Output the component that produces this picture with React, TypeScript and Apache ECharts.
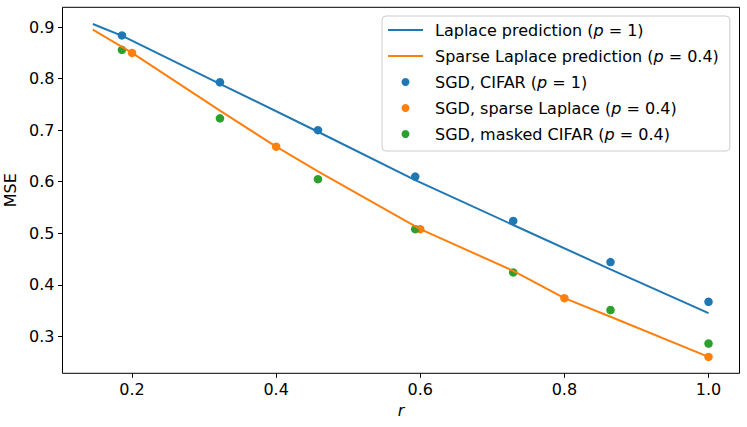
import React, { useEffect, useRef } from "react";
import * as echarts from "echarts";

const laplaceX = [0.1456, 0.1864, 0.322, 0.458, 0.593, 0.729, 0.864, 1.0];
const laplaceY = [0.906, 0.883, 0.79, 0.697, 0.603, 0.516, 0.43, 0.345];
const sparseX = [0.1456, 0.2, 0.322, 0.4, 0.458, 0.6, 0.729, 0.8, 0.864, 1.0];
const sparseY = [0.895, 0.85, 0.738, 0.668, 0.62, 0.508, 0.427, 0.374, 0.338, 0.26];
const cifarX = [0.186, 0.322, 0.458, 0.593, 0.729, 0.864, 1.0];
const cifarY = [0.884, 0.793, 0.7, 0.61, 0.524, 0.444, 0.367];
const sgdSparseX = [0.2, 0.4, 0.6, 0.8, 1.0];
const sgdSparseY = [0.85, 0.668, 0.508, 0.374, 0.26];
const maskedY = [0.856, 0.723, 0.605, 0.508, 0.424, 0.351, 0.286];

const xTicks = [0.2, 0.4, 0.6, 0.8, 1.0];
const yTicks = [0.3, 0.4, 0.5, 0.6, 0.7, 0.8, 0.9];

const names = [
  "Laplace prediction (p = 1)",
  "Sparse Laplace prediction (p = 0.4)",
  "SGD, CIFAR (p = 1)",
  "SGD, sparse Laplace (p = 0.4)",
  "SGD, masked CIFAR (p = 0.4)",
];

const zip = (xs: number[], ys: number[]) => xs.map((x, i) => [x, ys[i]]);

const FONT = "DejaVu Sans";

export default function App() {
  const ref = useRef<HTMLDivElement>(null);
  useEffect(() => {
    document.body.style.margin = "0";
    if (!ref.current) return;
    const chart = echarts.init(ref.current, undefined, { renderer: "svg" });
    const axisText = { color: "#000", fontFamily: FONT, fontSize: 16 };
    chart.setOption({
      animation: false,
      textStyle: { fontFamily: FONT },
      grid: {
        left: 62.5,
        right: 7.5,
        top: 7.3,
        bottom: 53.7,
        containLabel: false,
        outerBoundsMode: "none",
        show: true,
        borderColor: "#000",
        borderWidth: 1,
        backgroundColor: "transparent",
      },
      legend: {
        orient: "vertical",
        left: 382,
        top: 16,
        selectedMode: false,
        itemWidth: 35,
        itemHeight: 8,
        itemGap: 10,
        padding: [6, 11, 9, 5],
        borderColor: "#cccccc",
        borderWidth: 1,
        borderRadius: 4,
        backgroundColor: "rgba(255,255,255,0.8)",
        data: names.map((n, i) => (i < 2 ? { name: n, itemStyle: { opacity: 0 } } : { name: n })),
        formatter: (n: string) => n.replace("(p", "({i|p}"),
        textStyle: {
          color: "#000",
          fontFamily: FONT,
          fontSize: 16,
          lineHeight: 16,
          padding: [0, 0, 0, 7],
          rich: {
            i: { fontStyle: "italic", fontFamily: FONT, fontSize: 16, lineHeight: 16, color: "#000" },
          },
        },
      },
      xAxis: {
        type: "value",
        min: 0.1035,
        max: 1.043,
        name: "r",
        nameLocation: "middle",
        nameGap: 27,
        nameTextStyle: { ...axisText, fontStyle: "italic" },
        axisLine: { show: false },
        splitLine: { show: false },
        axisTick: { show: true, length: 4.5, lineStyle: { color: "#000", width: 1 }, customValues: xTicks },
        axisLabel: { ...axisText, margin: 8, customValues: xTicks, formatter: (v: number) => v.toFixed(1) },
      },
      yAxis: {
        type: "value",
        min: 0.2282,
        max: 0.9385,
        name: "MSE",
        nameLocation: "middle",
        nameGap: 38,
        nameTextStyle: axisText,
        axisLine: { show: false },
        splitLine: { show: false },
        axisTick: { show: true, length: 4.5, lineStyle: { color: "#000", width: 1 }, customValues: yTicks },
        axisLabel: { ...axisText, margin: 8, customValues: yTicks, formatter: (v: number) => v.toFixed(1) },
      },
      series: [
        {
          name: names[0],
          type: "line",
          data: zip(laplaceX, laplaceY),
          symbol: "none",
          z: 3,
          lineStyle: { color: "#1f77b4", width: 2 },
          itemStyle: { color: "#1f77b4" },
        },
        {
          name: names[1],
          type: "line",
          data: zip(sparseX, sparseY),
          symbol: "none",
          z: 3,
          lineStyle: { color: "#ff7f0e", width: 2 },
          itemStyle: { color: "#ff7f0e" },
        },
        {
          name: names[2],
          type: "scatter",
          data: zip(cifarX, cifarY),
          symbolSize: 8.5,
          itemStyle: { color: "#1f77b4", opacity: 1 },
        },
        {
          name: names[3],
          type: "scatter",
          data: zip(sgdSparseX, sgdSparseY),
          symbolSize: 8.5,
          itemStyle: { color: "#ff7f0e", opacity: 1 },
        },
        {
          name: names[4],
          type: "scatter",
          data: zip(cifarX, maskedY),
          symbolSize: 8.5,
          itemStyle: { color: "#2ca02c", opacity: 1 },
        },
      ],
    });
    return () => chart.dispose();
  }, []);
  return <div ref={ref} style={{ width: 747, height: 427 }} />;
}
